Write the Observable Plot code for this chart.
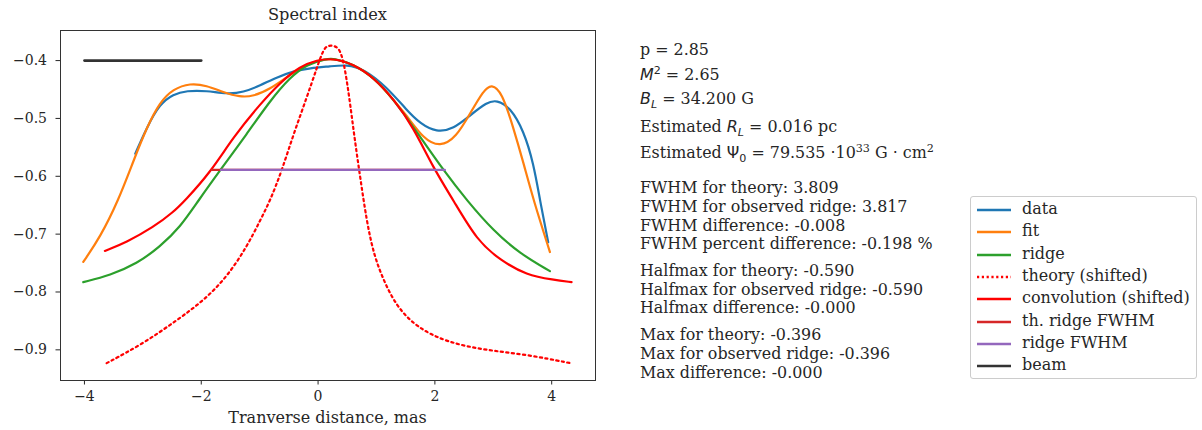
<!DOCTYPE html>
<html>
<head>
<meta charset="utf-8">
<script src="https://cdn.jsdelivr.net/npm/d3@7"></script>
<script src="https://cdn.jsdelivr.net/npm/@observablehq/plot@0.6"></script>
<style>
  body { margin: 0; background: #fff; }
  #wrap { position: relative; width: 1202px; height: 430px; font-family: "DejaVu Serif", serif; color: #262626; }
  .t { position: absolute; font-size: 15.9px; white-space: nowrap; line-height: 18px; }
  .m { font-family: "DejaVu Sans", sans-serif; }
  .m sup, .m sub, .t sup { font-size: 70%; line-height: 0; }
  #legend { position: absolute; left: 970px; top: 196px; width: 227px; height: 183px; border: 1px solid #cccccc; border-radius: 3px; box-sizing: border-box; background: rgba(255,255,255,0.8); }
  .row { position: absolute; left: 5px; height: 18px; font-size: 16px; white-space: nowrap; line-height: 18px; }
  .row svg { position: absolute; left: 0; top: 5px; }
  .row span { position: absolute; left: 46px; top: -1px; }
</style>
</head>
<body>
<div id="wrap"></div>
<script>
// ---- data ----
const dataX = [-3.13,-2.93,-2.71,-2.48,-2.25,-1.91,-1.56,-1.28,-0.99,-0.71,-0.42,-0.14,0.21,0.49,0.78,1.18,1.52,1.75,2.03,2.32,2.60,2.89,3.06,3.29,3.52,3.69,3.80,3.94];
const dataY = [-0.561,-0.515,-0.475,-0.458,-0.452,-0.452,-0.458,-0.455,-0.443,-0.429,-0.418,-0.413,-0.410,-0.407,-0.414,-0.446,-0.486,-0.509,-0.524,-0.518,-0.495,-0.472,-0.468,-0.481,-0.521,-0.578,-0.642,-0.714];

const fitX = [-4.02,-3.73,-3.42,-3.16,-2.93,-2.71,-2.48,-2.19,-1.91,-1.62,-1.34,-1.11,-0.82,-0.54,-0.25,0.03,0.26,0.60,0.95,1.18,1.52,1.80,2.09,2.37,2.60,2.83,2.97,3.15,3.34,3.52,3.69,3.97];
const fitY = [-0.748,-0.705,-0.642,-0.573,-0.515,-0.472,-0.449,-0.439,-0.443,-0.455,-0.463,-0.462,-0.449,-0.429,-0.409,-0.399,-0.396,-0.406,-0.429,-0.455,-0.495,-0.535,-0.550,-0.532,-0.492,-0.452,-0.440,-0.455,-0.515,-0.578,-0.642,-0.731];

const ridgeX = [-4.02,-3.56,-3.10,-2.71,-2.36,-2.05,-1.68,-1.22,-0.82,-0.48,-0.19,0.15,0.26,0.60,0.95,1.29,1.75,2.15,2.55,3.00,3.46,3.97];
const ridgeY = [-0.783,-0.771,-0.751,-0.722,-0.688,-0.642,-0.590,-0.527,-0.469,-0.429,-0.406,-0.397,-0.396,-0.406,-0.429,-0.466,-0.532,-0.590,-0.642,-0.694,-0.734,-0.764];

const theoryX = [-3.62,-2.99,-2.42,-1.96,-1.56,-1.22,-0.99,-0.82,-0.62,-0.42,-0.19,-0.02,0.09,0.16,0.28,0.38,0.46,0.55,0.63,0.72,0.83,0.95,1.12,1.35,1.69,2.20,2.89,3.57,4.32];
const theoryY = [-0.923,-0.889,-0.849,-0.815,-0.774,-0.722,-0.676,-0.642,-0.590,-0.527,-0.463,-0.412,-0.381,-0.374,-0.374,-0.381,-0.412,-0.475,-0.538,-0.601,-0.676,-0.734,-0.780,-0.826,-0.861,-0.887,-0.901,-0.908,-0.923];

const convX = [-3.65,-3.28,-2.82,-2.48,-2.28,-1.85,-1.45,-0.99,-0.65,-0.31,-0.02,0.26,0.60,0.95,1.29,1.63,1.97,2.32,2.72,3.12,3.57,4.03,4.34];
const convY = [-0.729,-0.714,-0.688,-0.662,-0.642,-0.594,-0.532,-0.475,-0.438,-0.410,-0.399,-0.396,-0.406,-0.429,-0.466,-0.515,-0.585,-0.642,-0.711,-0.745,-0.771,-0.779,-0.783];

const thFwhmX = [-1.82, 2.00];
const ridgeFwhmX = [-1.66, 2.17];
const halfmax = -0.589;
const beamX = [-4, -2];
const beamY = -0.4;

const xTicks = [-4, -2, 0, 2, 4];
const yTicks = [-0.9, -0.8, -0.7, -0.6, -0.5, -0.4];

const seriesNames = ["data","fit","ridge","theory (shifted)","convolution (shifted)","th. ridge FWHM","ridge FWHM","beam"];
const seriesColors = ["#1f77b4","#ff7f0e","#2ca02c","#ff0000","#ff0000","#d62728","#9467bd","#333333"];

const infoTop = [
  {html: 'p = 2.85', y: 50},
  {html: '<span class="m"><i>M</i><sup>2</sup> = </span> 2.65', y: 75},
  {html: '<span class="m"><i>B</i><sub><i>L</i></sub> = </span> 34.200 G', y: 99},
  {html: 'Estimated <span class="m"><i>R</i><sub><i>L</i></sub> = </span> 0.016 pc', y: 127},
  {html: 'Estimated <span class="m">Ψ<sub>0</sub> = </span> 79.535 <span class="m">·</span>10<sup>33</sup> G <span class="m">·</span> cm<sup>2</sup>', y: 153}
];
const infoLines = [
  ["FWHM for theory: 3.809", 188],
  ["FWHM for observed ridge: 3.817", 207],
  ["FWHM difference: -0.008", 226],
  ["FWHM percent difference: -0.198 %", 244],
  ["Halfmax for theory: -0.590", 271],
  ["Halfmax for observed ridge: -0.590", 290],
  ["Halfmax difference: -0.000", 308],
  ["Max for theory: -0.396", 335],
  ["Max for observed ridge: -0.396", 354],
  ["Max difference: -0.000", 373]
];

const toPts = (xs, ys) => xs.map((x, i) => ({x, y: ys[i]}));
const fmtY = d3.format(".1f");

const chart = Plot.plot({
  width: 1202,
  height: 430,
  marginLeft: 60,
  marginTop: 30,
  marginRight: 607,
  marginBottom: 50,
  style: {fontFamily: "DejaVu Serif", fontSize: "14px", color: "#262626", background: "transparent"},
  x: {domain: [-4.41, 4.75], ticks: xTicks, tickSize: 4.5, tickPadding: 6, label: null, tickFormat: d => d3.format("d")(d)},
  y: {domain: [-0.953, -0.348], ticks: yTicks, tickSize: 4.5, tickPadding: 9, label: null, tickFormat: fmtY},
  marks: [
    Plot.line(toPts(dataX, dataY), {x: "x", y: "y", stroke: seriesColors[0], strokeWidth: 2.2, curve: "basis"}),
    Plot.line(toPts(fitX, fitY), {x: "x", y: "y", stroke: seriesColors[1], strokeWidth: 2.2, curve: "basis"}),
    Plot.line(toPts(ridgeX, ridgeY), {x: "x", y: "y", stroke: seriesColors[2], strokeWidth: 2.2, curve: "basis"}),
    Plot.line(toPts(theoryX, theoryY), {x: "x", y: "y", stroke: seriesColors[3], strokeWidth: 2.2, strokeDasharray: "2.2,3.4", curve: "basis"}),
    Plot.line(toPts(convX, convY), {x: "x", y: "y", stroke: seriesColors[4], strokeWidth: 2.2, curve: "basis"}),
    Plot.line(toPts(thFwhmX, [halfmax, halfmax]), {x: "x", y: "y", stroke: seriesColors[5], strokeWidth: 2.4}),
    Plot.line(toPts(ridgeFwhmX, [halfmax, halfmax]), {x: "x", y: "y", stroke: seriesColors[6], strokeWidth: 2.4}),
    Plot.line(toPts(beamX, [beamY, beamY]), {x: "x", y: "y", stroke: seriesColors[7], strokeWidth: 2.6}),
    Plot.frame({stroke: "#333", strokeWidth: 1})
  ]
});
chart.style.position = "absolute";
chart.style.left = "0px";
chart.style.top = "0px";
const wrap = document.getElementById("wrap");
wrap.appendChild(chart);

function addText(html, left, cy, extra) {
  const d = document.createElement("div");
  d.className = "t";
  d.innerHTML = html;
  d.style.left = left + "px";
  d.style.top = (cy - 9) + "px";
  if (extra) Object.assign(d.style, extra);
  wrap.appendChild(d);
  return d;
}
addText("Spectral index", 0, 15, {width: "655px", textAlign: "center", fontSize: "16.2px"});
addText("Tranverse distance, mas", 0, 418, {width: "655px", textAlign: "center", fontSize: "16px"});
infoTop.forEach(l => addText(l.html, 640, l.y));
infoLines.forEach(([t, y]) => addText(t, 640, y));

const lg = document.createElement("div");
lg.id = "legend";
wrap.appendChild(lg);
seriesNames.forEach((name, i) => {
  const r = document.createElement("div");
  r.className = "row";
  r.style.top = (4 + i * 22.3) + "px";
  const dash = i === 3 ? 'stroke-dasharray="2.2,2.6"' : '';
  r.innerHTML = `<svg width="36" height="8"><line x1="1" y1="4" x2="35" y2="4" stroke="${seriesColors[i]}" stroke-width="2.5" ${dash}/></svg><span>${name}</span>`;
  lg.appendChild(r);
});
</script>
</body>
</html>
